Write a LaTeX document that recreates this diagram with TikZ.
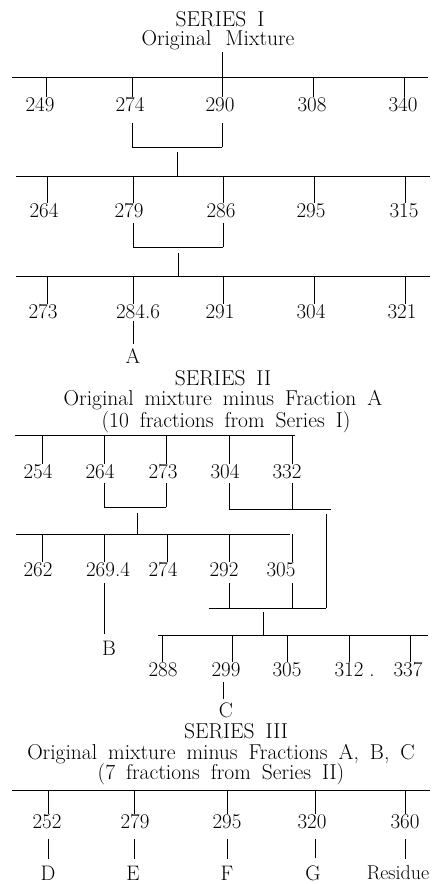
\documentclass[tikz,border=0pt]{standalone}
\usetikzlibrary{calc}
\newcommand\tku[3]{\path ([xshift=#2pt]#1.north) coordinate (tmp); \draw[ln] (tmp) -- (tmp |- #3);}
\newcommand\tkd[4]{\path ([xshift=#2pt,yshift=-#3pt]#1.south) coordinate (tmp); \draw[ln] (tmp) -- (tmp |- #4);}
\newcommand\capfont{\fontsize{21.5}{25}\selectfont\spaceskip=11pt plus 2pt minus 1pt\relax}
\begin{document}
\begin{tikzpicture}[x=1pt,y=-1pt,
  ln/.style={line width=1pt},
  num/.style={inner sep=1pt,font=\fontsize{21}{24}\selectfont},
  lettr/.style={inner sep=4pt,font=\fontsize{21}{24}\selectfont},
  captxt/.style={inner sep=0pt,font=\capfont}]
\useasboundingbox (0,0) rectangle (433,884);

% ---------------- SERIES I
\node[captxt] (s1) at (220,19) {SERIES I};
\node[captxt] (s1m) at (218,40) {Original\hspace{14pt}Mixture};
\coordinate (L1a) at (12,77); \coordinate (L1b) at (428,77);
\coordinate (T0) at (222,52);
\draw[ln] (T0) -- (T0 |- L1a);
\draw[ln] (L1a) -- (L1b);
\node[num] (n11) at (40,105) {249};
\node[num] (n12) at (130,105) {274};
\node[num] (n13) at (220,105) {290};
\node[num] (n14) at (312,105) {308};
\node[num] (n15) at (403,105) {340};
\tku{n11}{6}{L1a} \tku{n12}{2}{L1a} \tku{n13}{2}{L1a} \tku{n14}{1}{L1a} \tku{n15}{1}{L1a}
\coordinate (B1a) at (132,147); \coordinate (B1b) at (222,147);
\tkd{n12}{2}{10}{B1a} \tkd{n13}{2}{10}{B1a}
\draw[ln] (B1a) -- (B1b);
\coordinate (M1) at ($(B1a)!0.5!(B1b)$);
\coordinate (L2a) at (16,176); \coordinate (L2b) at (430,176);
\draw[ln] ([yshift=-5pt]M1) -- (M1 |- L2a);
\draw[ln] (L2a) -- (L2b);
\node[num] (n21) at (44,211) {264};
\node[num] (n22) at (129,211) {279};
\node[num] (n23) at (221,211) {286};
\node[num] (n24) at (311,211) {295};
\node[num] (n25) at (404,211) {315};
\tku{n21}{3}{L2a} \tku{n22}{4}{L2a} \tku{n23}{2}{L2a} \tku{n24}{3}{L2a} \tku{n25}{1}{L2a}
\coordinate (B2a) at (133,247); \coordinate (B2b) at (223,247);
\tkd{n22}{4}{4}{B2a} \tkd{n23}{2}{4}{B2a}
\draw[ln] (B2a) -- (B2b);
\coordinate (M2) at ($(B2a)!0.5!(B2b)$);
\coordinate (L3a) at (16,276); \coordinate (L3b) at (430,276);
\draw[ln] ([yshift=-6pt]M2) -- (M2 |- L3a);
\draw[ln] (L3a) -- (L3b);
\node[num] (n31) at (43,312) {273};
\node[num] (n32) at (138,312) {284.6};
\node[num] (n33) at (220,312) {291};
\node[num] (n34) at (311,312) {304};
\node[num] (n35) at (402,312) {321};
\tku{n31}{4}{L3a} \tku{n32}{-5}{L3a} \tku{n33}{3}{L3a} \tku{n34}{3}{L3a} \tku{n35}{3}{L3a}
\node[lettr] (A) at (133,356) {A};
\tkd{n32}{-5}{1}{A.north}

% ---------------- SERIES II
\node[captxt] (s2) at (223,378) {SERIES II};
\node[captxt] (s2m) at (223,400) {Original mixture minus Fraction A};
\node[captxt] (s2n) at (226,422) {(10 fractions from Series I)};
\coordinate (L4a) at (15,435); \coordinate (L4b) at (295,435);
\draw[ln] (L4a) -- (L4b);
\node[num] (n41) at (38,472) {254};
\node[num] (n42) at (100,472) {264};
\node[num] (n43) at (163,472) {273};
\node[num] (n44) at (225,472) {304};
\node[num] (n45) at (287,472) {332};
\tku{n41}{4}{L4a} \tku{n42}{4}{L4a} \tku{n43}{3}{L4a} \tku{n44}{4}{L4a} \tku{n45}{5}{L4a}
\coordinate (B3a) at (104,507); \coordinate (B3b) at (166,507);
\tkd{n42}{4}{3}{B3a} \tkd{n43}{3}{3}{B3a}
\draw[ln] (B3a) -- (B3b);
\coordinate (B4a) at (229,509); \coordinate (B4b) at (331,509);
\tkd{n44}{4}{3}{B4a} \tkd{n45}{5}{3}{B4a}
\draw[ln] (B4a) -- (B4b);
\coordinate (M3) at (137,507);
\coordinate (L5a) at (16,534); \coordinate (L5b) at (290,534);
\draw[ln] ([yshift=-6pt]M3) -- (M3 |- L5a);
\draw[ln] (L5a) -- (L5b);
\node[num] (n51) at (38,570) {262};
\node[num] (n52) at (108,570) {269.4};
\node[num] (n53) at (163,570) {274};
\node[num] (n54) at (224,570) {292};
\node[num] (n55) at (281,570) {305};
\tku{n51}{4}{L5a} \tku{n52}{-4}{L5a} \tku{n53}{4}{L5a} \tku{n54}{5}{L5a} \tku{n55}{11}{L5a}
\node[lettr,inner sep=7pt] (B) at (109,648) {B};
\tkd{n52}{-4}{5}{B.north}
\coordinate (B5a) at (209,608); \coordinate (B5b) at (326,608);
\tkd{n54}{5}{5}{B5a} \tkd{n55}{11}{5}{B5a}
\draw[ln] (B5a) -- (B5b);
\coordinate (V1) at (326,514);
\draw[ln] (V1) -- (B5b);
\coordinate (M5) at (263,608);
\coordinate (L6a) at (158,635); \coordinate (L6b) at (428,635);
\draw[ln] ([yshift=-4pt]M5) -- (M5 |- L6a);
\draw[ln] (L6a) -- (L6b);
\node[num] (n61) at (163,670) {288};
\node[num] (n62) at (226,670) {299};
\node[num] (n63) at (287,670) {305};
\node[num] (n64) at (349,670) {312\rlap{\hspace{6pt}.}};
\node[num] (n65) at (408,670) {337};
\tku{n61}{-1}{L6a} \tku{n62}{6}{L6a} \tku{n63}{0}{L6a} \tku{n64}{0}{L6a} \tku{n65}{2}{L6a}
\node[lettr,inner sep=3pt] (C) at (226,710) {C};
\tkd{n62}{-3}{4}{C.north}

% ---------------- SERIES III
\node[captxt] (s3) at (236,731) {SERIES III};
\node[captxt] (s3m) at (221,754) {Original mixture minus Fractions A, B, C};
\node[captxt] (s3n) at (221,774) {(7 fractions from Series II)};
\coordinate (L7a) at (12,790); \coordinate (L7b) at (430,790);
\draw[ln] (L7a) -- (L7b);
\node[num] (n71) at (47,822) {252};
\node[num] (n72) at (135,822) {279};
\node[num] (n73) at (227,822) {295};
\node[num] (n74) at (312,822) {320};
\node[num] (n75) at (405,822) {360};
\tku{n71}{1}{L7a} \tku{n72}{-1}{L7a} \tku{n73}{0}{L7a} \tku{n74}{3}{L7a} \tku{n75}{0}{L7a}
\node[lettr,inner sep=7pt] (D) at (48,873) {D};
\node[lettr,inner sep=7pt] (E) at (133,873) {E};
\node[lettr,inner sep=7pt] (F) at (227,873) {F};
\node[lettr,inner sep=7pt] (G) at (313,873) {G};
\node[lettr,inner sep=7pt,font=\fontsize{20}{22}\selectfont] (R) at (398,873) {Residue};
\tkd{n71}{1}{9}{D.north} \tkd{n72}{-1}{9}{E.north} \tkd{n73}{0}{9}{F.north} \tkd{n74}{3}{9}{G.north} \tkd{n75}{0}{9}{R.north}
\end{tikzpicture}
\end{document}
